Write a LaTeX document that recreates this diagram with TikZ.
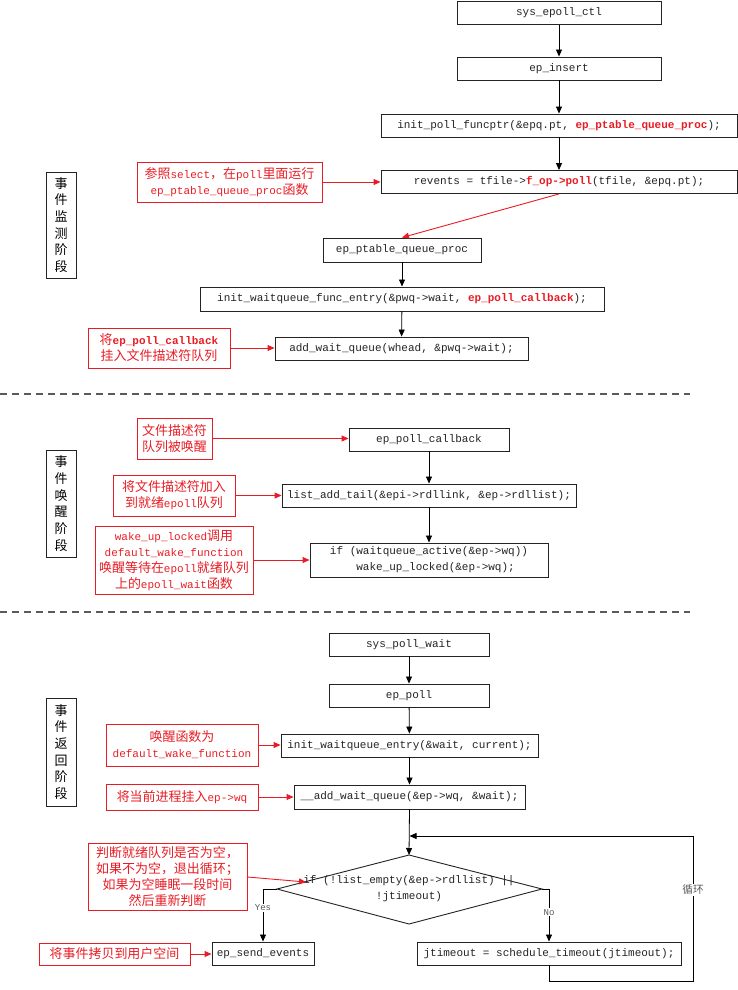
\documentclass[tikz,border=0pt]{standalone}
\usepackage{fontspec}
\setmainfont{Liberation Mono}
\newfontfamily\cjk[Scale=1.18]{Noto Sans CJK SC}
\usetikzlibrary{arrows.meta}
\definecolor{lred}{RGB}{232,28,36}
\definecolor{boxgray}{RGB}{35,35,35}
\definecolor{dashgray}{RGB}{90,90,90}
\newcommand\zh[1]{{\cjk #1}}
\newcommand\hl[1]{{\color{lred}\bfseries #1}}
\begin{document}
\begin{tikzpicture}[x=1pt,y=-1pt,
  font=\fontsize{11}{16}\selectfont,
  sz/.style 2 args={minimum width=#1pt, minimum height=#2pt},
  cbox/.style={draw=boxgray, line width=0.9pt, inner sep=0pt, text=boxgray, align=center},
  lbox/.style={draw=lred, line width=0.9pt, inner sep=0pt, text=lred, align=center},
  sbox/.style={draw=boxgray, line width=0.9pt, inner sep=0pt, align=center,
    font=\cjk\fontsize{11}{16.7}\selectfont},
  blk/.style={draw=black, line width=0.8pt, -{Triangle[length=7pt,width=6pt]}},
  redar/.style={draw=lred, line width=0.9pt, -{Triangle[length=7pt,width=6pt]}},
  wlab/.style={fill=white, inner sep=1pt, text=dashgray, font=\fontsize{9}{10}\selectfont},
  dashline/.style={draw=dashgray, line width=1.3pt, dash pattern=on 7pt off 5pt}]
\useasboundingbox (0,0) rectangle (738,990);

% ---------- section 1 ----------
\node[cbox, sz={204}{23}] (A) at (559,13) {sys\_epoll\_ctl};
\node[cbox, sz={204}{23}] (B) at (559,68.5) {ep\_insert};
\node[cbox, sz={356}{23}] (C) at (559,125.5) {init\_poll\_funcptr(\&epq.pt, \hl{ep\_ptable\_queue\_proc});};
\node[cbox, sz={356}{23}] (D) at (559,182) {revents = tfile->\hl{f\_op->poll}(tfile, \&epq.pt);};
\node[cbox, sz={158}{24}] (E) at (402,250) {ep\_ptable\_queue\_proc};
\node[cbox, sz={404}{24}] (F) at (402,299) {init\_waitqueue\_func\_entry(\&pwq->wait, \hl{ep\_poll\_callback});};
\node[cbox, sz={253}{23}] (G) at (401.5,348.5) {add\_wait\_queue(whead, \&pwq->wait);};
\node[lbox, sz={185}{40}] (LD) at (229.5,182) {\zh{参照}select\zh{，在}poll\zh{里面运行}\\ep\_ptable\_queue\_proc\zh{函数}};
\node[lbox, sz={142}{40}] (LG) at (159,348) {\zh{将}{\bfseries ep\_poll\_callback}\\\zh{挂入文件描述符队列}};
\node[sbox, sz={30}{106}] (S1) at (61,225) {事\\件\\监\\测\\阶\\段};

\draw[blk] (A) -- (B);
\draw[blk] (B) -- (C);
\draw[blk] (C) -- (D);
\draw[redar] (D.south) -- (E.north);
\draw[blk] (E) -- (F);
\draw[blk] (F) -- (G);
\draw[redar] (LD.east) -- (LD.east -| D.west);
\draw[redar] (LG.east) -- (LG.east -| G.west);

\draw[dashline] (0,394) -- (690,394);

% ---------- section 2 ----------
\node[cbox, sz={160}{23}] (H) at (429,439.5) {ep\_poll\_callback};
\node[cbox, sz={294}{23}] (I) at (429,495.5) {list\_add\_tail(\&epi->rdllink, \&ep->rdllist);};
\node[cbox, sz={238}{34}, align=left] (J) at (429,560) {if (waitqueue\_active(\&ep->wq))\\\phantom{xxxx}wake\_up\_locked(\&ep->wq);};
\node[lbox, sz={75}{41}] (LH) at (174.5,438.5) {\zh{文件描述符}\\\zh{队列被唤醒}};
\node[lbox, sz={122}{41}] (LI) at (174,495.5) {\zh{将文件描述符加入}\\\zh{到就绪}epoll\zh{队列}};
\node[lbox, sz={158}{68}] (LJ) at (174,560) {wake\_up\_locked\zh{调用}\\default\_wake\_function\\\zh{唤醒等待在}epoll\zh{就绪队列}\\\zh{上的}epoll\_wait\zh{函数}};
\node[sbox, sz={30}{107}] (S2) at (61,503.5) {事\\件\\唤\\醒\\阶\\段};

\draw[blk] (H) -- (I);
\draw[blk] (I) -- (J);
\draw[redar] (LH.east) -- (LH.east -| H.west);
\draw[redar] (LI.east) -- (LI.east -| I.west);
\draw[redar] (LJ.east) -- (LJ.east -| J.west);

\draw[dashline] (0,612) -- (690,612);

% ---------- section 3 ----------
\node[cbox, sz={160}{23}] (K) at (409,644.5) {sys\_poll\_wait};
\node[cbox, sz={160}{23}] (L) at (409,695.5) {ep\_poll};
\node[cbox, sz={257}{23}] (M) at (409.5,745.5) {init\_waitqueue\_entry(\&wait, current);};
\node[cbox, sz={231}{24}] (N) at (409.5,797) {\_\_add\_wait\_queue(\&ep->wq, \&wait);};
\node[lbox, sz={152}{42}] (LM) at (182,745) {\zh{唤醒函数为}\\default\_wake\_function};
\node[lbox, sz={152}{26}] (LN) at (182,797) {\zh{将当前进程挂入}ep->wq};
\node[sbox, sz={30}{108}] (S3) at (61,752) {事\\件\\返\\回\\阶\\段};

\coordinate (dtop) at (409,855);
\coordinate (dleft) at (277,889);
\coordinate (dright) at (542,889);
\coordinate (dbot) at (409,924);
\draw[draw=boxgray, line width=0.9pt] (dtop) -- (dright) -- (dbot) -- (dleft) -- cycle;
\node[text=boxgray, align=center, inner sep=0pt] (dtext) at (409,889) {if (!list\_empty(\&ep->rdllist) ||\\!jtimeout)};
\coordinate (ifpt) at (306,882);

\node[cbox, sz={102}{23}] (O) at (263,953.5) {ep\_send\_events};
\node[cbox, sz={264}{23}] (P) at (549,953.5) {jtimeout = schedule\_timeout(jtimeout);};
\node[lbox, sz={151}{22}] (LO) at (114.5,954) {\zh{将事件拷贝到用户空间}};
\node[lbox, sz={159}{67}] (LQ) at (167.5,876.5) {\zh{判断就绪队列是否为空，}\\\zh{如果不为空，退出循环；}\\\zh{如果为空睡眠一段时间}\\\zh{然后重新判断}};

\coordinate (lbr) at (693,981);
\coordinate (ltr) at (693,836);

\draw[blk] (K) -- (L);
\draw[blk] (L) -- (M);
\draw[blk] (M) -- (N);
\draw[blk] (N.south) -- (dtop);
\draw[blk] (dleft) -| node[wlab, pos=0.68] {Yes} (O.north);
\draw[blk] (dright) -| node[wlab, pos=0.72] {No} (P.north);
\draw[blk] (P.south) |- (lbr) -- node[wlab, pos=0.63, font=\cjk\fontsize{9}{10}\selectfont] {循环} (ltr) -- (ltr -| N.south);
\draw[redar] (LM.east) -- (LM.east -| M.west);
\draw[redar] (LN.east) -- (LN.east -| N.west);
\draw[redar] (LO.east) -- (LO.east -| O.west);
\draw[redar] (LQ.east |- 0,877) -- (ifpt);
\end{tikzpicture}
\end{document}
